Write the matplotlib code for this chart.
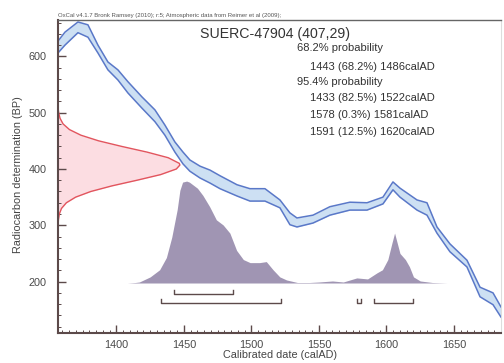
import numpy as np
import matplotlib
matplotlib.use("Agg")
import matplotlib.pyplot as plt
from matplotlib.ticker import MultipleLocator

plt.rcParams['font.family'] = ['Liberation Sans', 'DejaVu Sans']

# calibration curve (IntCal09 band)
curve_year = [1356.7, 1361.9, 1371.5, 1378.9, 1386.3, 1393.7, 1401.1, 1408.5,
              1418.9, 1428.5, 1435.9, 1443.3, 1449.3, 1454.4, 1461.9, 1469.3,
              1476.7, 1489.3, 1498.9, 1510.0, 1521.1, 1528.5, 1533.7, 1545.6,
              1558.1, 1572.9, 1585.6, 1597.4, 1604.8, 1610.0, 1622.6, 1630.0,
              1637.4, 1647.0, 1659.6, 1669.3, 1678.9, 1684.8]
curve_hi = [627, 643, 661, 656, 620, 590, 576, 555,
            528, 505, 478, 448, 430, 416, 405, 398,
            388, 372, 365, 365, 345, 322, 313, 318,
            333, 341, 340, 350, 377, 366, 345, 340,
            297, 267, 238, 190, 180, 155]
curve_lo = [606, 620, 642, 634, 606, 576, 558, 535,
            508, 484, 460, 430, 409, 396, 384, 375,
            365, 352, 343, 343, 331, 301, 297, 304,
            318, 327, 327, 338, 363, 350, 327, 318,
            286, 253, 226, 173, 159, 137]

# radiocarbon measurement likelihood (407 +/- 29 BP), relative height
lik_bp = [300, 310, 320, 330, 340, 350, 360, 370, 380, 390, 400, 407,
          410, 420, 430, 440, 450, 460, 470, 480, 490, 500, 510]
lik_h = [0.0, 0.004, 0.011, 0.029, 0.069, 0.145, 0.269, 0.443, 0.648, 0.842,
         0.971, 1.0, 0.995, 0.904, 0.730, 0.524, 0.333, 0.188, 0.094, 0.042,
         0.017, 0.006, 0.0]

# calibrated date distribution, relative probability
cal_year = [1408, 1414, 1417, 1425, 1432, 1437, 1441, 1445, 1447, 1449,
            1452, 1454, 1460, 1464, 1469, 1474, 1479, 1484, 1489, 1494,
            1499, 1506, 1511, 1516, 1521, 1526, 1534, 1543, 1550, 1560,
            1568, 1578, 1586, 1593, 1597, 1601, 1604, 1606, 1610, 1614,
            1617, 1620, 1625, 1634, 1645]
cal_p = [0.0, 0.005, 0.01, 0.06, 0.13, 0.25, 0.45, 0.72, 0.91, 0.99,
         1.0, 0.99, 0.93, 0.86, 0.75, 0.62, 0.57, 0.49, 0.32, 0.23,
         0.20, 0.20, 0.21, 0.13, 0.06, 0.03, 0.005, 0.005, 0.01, 0.02,
         0.01, 0.05, 0.04, 0.10, 0.13, 0.23, 0.39, 0.49, 0.29, 0.23,
         0.16, 0.06, 0.02, 0.005, 0.0]

# highest probability ranges
range68 = [(1443, 1486)]
range95 = [(1433, 1522), (1578, 1581), (1591, 1620)]

title = "SUERC-47904 (407,29)"
summary = [("68.2% probability", 0),
           ("1443 (68.2%) 1486calAD", 1),
           ("95.4% probability", 0),
           ("1433 (82.5%) 1522calAD", 1),
           ("1578 (0.3%) 1581calAD", 1),
           ("1591 (12.5%) 1620calAD", 1)]
header = "OxCal v4.1.7 Bronk Ramsey (2010); r:5; Atmospheric data from Reimer et al (2009);"

x0, x1 = 1356.7, 1684.8
y0, y1 = 108.7, 663.7

fig = plt.figure(figsize=(5.04, 3.63), dpi=100)
ax = fig.add_axes([0.115, 0.0826, 0.879, 0.861])

# likelihood on the y axis
lik_x = x0 + np.array(lik_h) * 90.3
ax.fill_betweenx(lik_bp, x0, lik_x, color='#fcdde2', lw=0)
ax.plot(lik_x, lik_bp, color='#e2555e', lw=1.0)

# calibration curve band
ax.fill_between(curve_year, curve_lo, curve_hi, color='#cde0f3', lw=0)
ax.plot(curve_year, curve_hi, color='#5a78c8', lw=1.1)
ax.plot(curve_year, curve_lo, color='#5a78c8', lw=1.1)

# calibrated distribution
base = 197.5
ax.fill_between(cal_year, base, base + np.array(cal_p) * 181, color='#a095b3', lw=0)

# range brackets
def bracket(a, b, y, h=7):
    ax.plot([a, a, b, b], [y + h, y, y, y + h], color='#5c4a4a', lw=1.0)

for a, b in range68:
    bracket(a, b, 178)
for a, b in range95:
    bracket(a, b, 162)

ax.set_xlim(x0, x1)
ax.set_ylim(y0, y1)
ax.xaxis.set_major_locator(MultipleLocator(50))
ax.xaxis.set_minor_locator(MultipleLocator(5))
ax.yaxis.set_major_locator(MultipleLocator(100))
ax.yaxis.set_minor_locator(MultipleLocator(20))
ax.tick_params(which='both', direction='in', colors='#5c4a4a', labelcolor='#4a4a4a',
               labelsize=7.8, top=False, right=False)
ax.tick_params(which='major', length=6, width=1.0)
ax.tick_params(which='minor', length=2.5, width=0.7)
ax.tick_params(axis='x', pad=5)
ax.tick_params(axis='y', pad=8)
for s in ['left', 'bottom']:
    ax.spines[s].set_color('#5c4a4a')
    ax.spines[s].set_linewidth(1.5)
ax.spines['top'].set_color('#666666')
ax.spines['top'].set_linewidth(1.0)
ax.spines['right'].set_color('#dddddd')
ax.spines['right'].set_linewidth(0.8)

fig.text(0.036, 0.518, "Radiocarbon determination (BP)", rotation=90,
         ha='center', va='center', fontsize=7.8, color='#444444')
fig.text(0.556, 0.022, "Calibrated date (calAD)", ha='center', va='center',
         fontsize=7.8, color='#444444')
fig.text(0.115, 0.956, header, ha='left', va='center', fontsize=4.3, color='#555555')
fig.text(0.397, 0.906, title, ha='left', va='center', fontsize=10.2, color='#333333')
ys = [0.868, 0.815, 0.774, 0.730, 0.683, 0.636]
for (s, indent), yy in zip(summary, ys):
    fig.text(0.589 + indent * 0.026, yy, s, ha='left', va='center',
             fontsize=8, color='#333333')

fig.savefig("out.png", dpi=100)
